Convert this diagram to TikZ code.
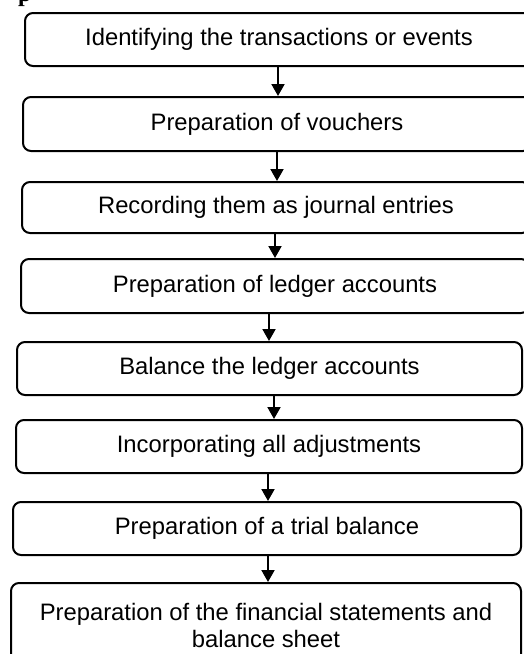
\documentclass[tikz,border=0pt]{standalone}
\usepackage{fontspec}
\setmainfont{Liberation Sans}
\newfontfamily\headserif{Liberation Serif}
\usetikzlibrary{arrows.meta}

\begin{document}
\begin{tikzpicture}[x=1pt,y=-1pt,
  stepbox/.style={draw=black, line width=2pt, rounded corners=8pt, fill=white,
    align=center, inner sep=0pt, font=\fontsize{23.8}{26.5}\selectfont},
  flowarrow/.style={line width=2pt, -{Triangle[width=13pt,length=12pt]}}]

  % page area
  \useasboundingbox (0,0) rectangle (523,654);
  \fill[white] (0,0) rectangle (523,654);

  % remains of the heading above the chart
  \node[anchor=base west, inner sep=0pt, font=\headserif\bfseries\fontsize{24}{26}\selectfont] (head) at (18,1) {p};

  % the steps of the accounting cycle
  \node[stepbox, minimum width=508pt, minimum height=53pt] (b1) at (279,39.5) {Identifying the transactions or events};
  \node[stepbox, minimum width=508pt, minimum height=54pt] (b2) at (277,124) {Preparation of vouchers};
  \node[stepbox, minimum width=508pt, minimum height=51pt] (b3) at (276,207.5) {Recording them as journal entries};
  \node[stepbox, minimum width=508pt, minimum height=54pt] (b4) at (275,286) {Preparation of ledger accounts};
  \node[stepbox, minimum width=505pt, minimum height=53pt] (b5) at (269.5,368.5) {Balance the ledger accounts};
  \node[stepbox, minimum width=506pt, minimum height=53pt] (b6) at (269,446.5) {Incorporating all adjustments};
  \node[stepbox, minimum width=508pt, minimum height=53pt] (b7) at (267,528.5) {Preparation of a trial balance};
  \node[stepbox, minimum width=510pt, minimum height=85pt] (b8) at (266,625.5) {Preparation of the financial statements and\\balance sheet};

  % horizontal positions of the connecting arrows
  \coordinate (x1) at (278,0);
  \coordinate (x2) at (277,0);
  \coordinate (x3) at (275,0);
  \coordinate (x4) at (269,0);
  \coordinate (x5) at (274,0);
  \coordinate (x6) at (268,0);
  \coordinate (x7) at (268,0);

  \draw[flowarrow] (b1.south -| x1) -- (b2.north -| x1);
  \draw[flowarrow] (b2.south -| x2) -- (b3.north -| x2);
  \draw[flowarrow] (b3.south -| x3) -- (b4.north -| x3);
  \draw[flowarrow] (b4.south -| x4) -- (b5.north -| x4);
  \draw[flowarrow] (b5.south -| x5) -- (b6.north -| x5);
  \draw[flowarrow] (b6.south -| x6) -- (b7.north -| x6);
  \draw[flowarrow] (b7.south -| x7) -- (b8.north -| x7);
\end{tikzpicture}
\end{document}
